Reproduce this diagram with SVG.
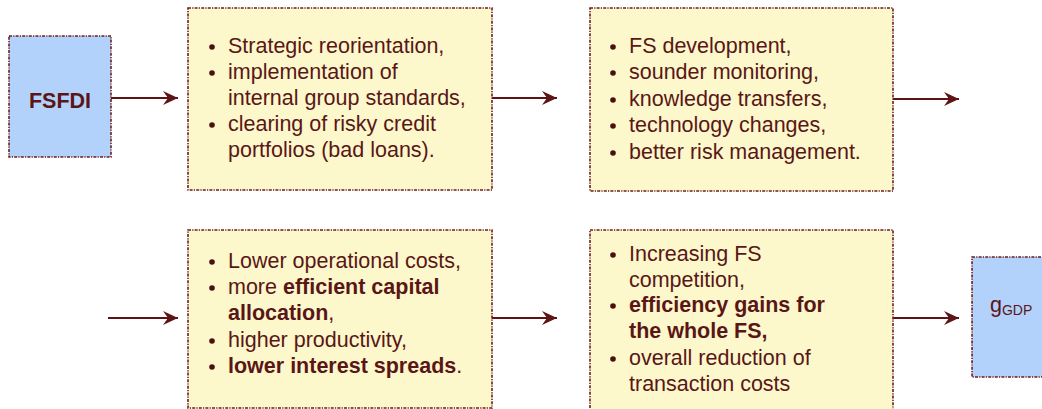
<svg xmlns="http://www.w3.org/2000/svg" width="1042" height="409" viewBox="0 0 1042 409">
<style>
.box{stroke:#6b1e1e;stroke-width:1.6;stroke-dasharray:3 1.2 1.2 1.2}
.yel{fill:#fcf8cc}
.blu{fill:#b3d2fb}
.t{font-family:"Liberation Sans",Arial,sans-serif;font-size:21.5px;fill:#5a1616}
.b{font-weight:bold}
.bul{fill:#4a1010}
.conn{stroke:#5e1414;stroke-width:2;fill:none;marker-end:url(#ah)}
</style>
<defs>
<marker id="ah" markerWidth="16" markerHeight="16" refX="15" refY="8" orient="auto" markerUnits="userSpaceOnUse">
<path d="M0,1 L15,8 L0,15 L5,8 Z" fill="#5e1414"/>
</marker>
</defs>
<rect width="1042" height="409" fill="#ffffff"/>
<g id="connectors">
<line class="conn" x1="111" y1="98" x2="178" y2="98"/>
<line class="conn" x1="492" y1="98" x2="557" y2="98"/>
<line class="conn" x1="893" y1="99" x2="959" y2="99"/>
<line class="conn" x1="108" y1="318" x2="178" y2="318"/>
<line class="conn" x1="492" y1="318" x2="557" y2="318"/>
<line class="conn" x1="893" y1="318" x2="959" y2="318"/>
</g>
<g id="fsfdi">
<rect class="box blu" x="9" y="36" width="102" height="121"/>
<text class="t b" x="60" y="108" text-anchor="middle" font-size="22">FSFDI</text>
</g>
<g id="box1">
<rect class="box yel" x="188" y="8" width="304" height="182"/>
<circle class="bul" cx="212" cy="47" r="2.8"/>
<circle class="bul" cx="212" cy="73" r="2.8"/>
<circle class="bul" cx="212" cy="125" r="2.8"/>
<text class="t" x="228" y="53">Strategic reorientation,</text>
<text class="t" x="228" y="79">implementation of</text>
<text class="t" x="228" y="105">internal group standards,</text>
<text class="t" x="228" y="131">clearing of risky credit</text>
<text class="t" x="228" y="157">portfolios (bad loans).</text>
</g>
<g id="box2">
<rect class="box yel" x="590" y="8" width="303" height="183"/>
<circle class="bul" cx="613" cy="47" r="2.8"/>
<circle class="bul" cx="613" cy="73" r="2.8"/>
<circle class="bul" cx="613" cy="100" r="2.8"/>
<circle class="bul" cx="613" cy="126" r="2.8"/>
<circle class="bul" cx="613" cy="153" r="2.8"/>
<text class="t" x="629" y="53">FS development,</text>
<text class="t" x="629" y="79">sounder monitoring,</text>
<text class="t" x="629" y="106">knowledge transfers,</text>
<text class="t" x="629" y="132">technology changes,</text>
<text class="t" x="629" y="159">better risk management.</text>
</g>
<g id="box3">
<rect class="box yel" x="188" y="230" width="304" height="178"/>
<circle class="bul" cx="212" cy="262" r="2.8"/>
<circle class="bul" cx="212" cy="288" r="2.8"/>
<circle class="bul" cx="212" cy="341" r="2.8"/>
<circle class="bul" cx="212" cy="367" r="2.8"/>
<text class="t" x="228" y="268">Lower operational costs,</text>
<text class="t" x="228" y="294">more <tspan class="b">efficient capital</tspan></text>
<text class="t" x="228" y="320"><tspan class="b">allocation</tspan>,</text>
<text class="t" x="228" y="347">higher productivity,</text>
<text class="t" x="228" y="373"><tspan class="b">lower interest spreads</tspan>.</text>
</g>
<g id="box4">
<rect class="box yel" x="590" y="230" width="303" height="182"/>
<circle class="bul" cx="613" cy="255" r="2.8"/>
<circle class="bul" cx="613" cy="306" r="2.8"/>
<circle class="bul" cx="613" cy="359" r="2.8"/>
<text class="t" x="629" y="261">Increasing FS</text>
<text class="t" x="629" y="287">competition,</text>
<text class="t b" x="629" y="312">efficiency gains for</text>
<text class="t b" x="629" y="338">the whole FS,</text>
<text class="t" x="629" y="365">overall reduction of</text>
<text class="t" x="629" y="391">transaction costs</text>
</g>
<g id="ggdp">
<rect class="box blu" x="972" y="257" width="75" height="120"/>
<text class="t" x="990" y="312" font-size="22">g<tspan font-size="14" dy="3">GDP</tspan></text>
</g>
</svg>
